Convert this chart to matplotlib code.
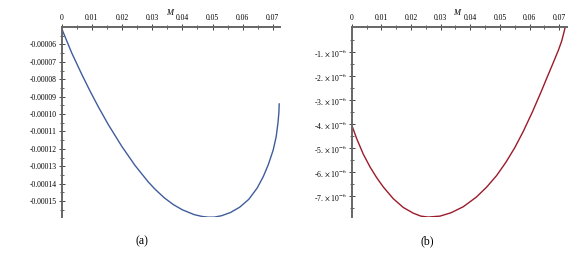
import matplotlib
matplotlib.use("Agg")
import matplotlib.pyplot as plt

plt.rcParams['font.family'] = ['Liberation Serif', 'DejaVu Serif']
plt.rcParams['mathtext.fontset'] = 'stix'

# Panel (a) data (values in units of 1e-5)
m_a = [0.000, 0.0033, 0.0066, 0.0094, 0.0121, 0.0154, 0.0199, 0.0243, 0.0287,
       0.0309, 0.034, 0.037, 0.040, 0.044, 0.0465, 0.0485, 0.0505, 0.053,
       0.056, 0.059, 0.062, 0.0648, 0.0668, 0.0685, 0.0701, 0.0711, 0.0717,
       0.0720, 0.0721]
v_a = [-5.09, -6.48, -7.70, -8.68, -9.57, -10.59, -11.85, -12.95, -13.90,
       -14.31, -14.81, -15.20, -15.50, -15.78, -15.88, -15.92, -15.92, -15.84,
       -15.65, -15.35, -14.9, -14.25, -13.6, -12.9, -12.07, -11.3, -10.5,
       -9.9, -9.42]
v_a = [v * 1e-5 for v in v_a]

# Panel (b) data (values in units of 1e-6)
m_b = [0.000, 0.0017, 0.0039, 0.0062, 0.0084, 0.0107, 0.014, 0.0174, 0.0208,
       0.0233, 0.0258, 0.0298, 0.0335, 0.0376, 0.042, 0.0455, 0.0489, 0.052,
       0.055, 0.0579, 0.061, 0.064, 0.0657, 0.0677, 0.0697, 0.0708, 0.0715,
       0.0719]
v_b = [-4.04, -4.62, -5.26, -5.80, -6.24, -6.64, -7.12, -7.49, -7.73,
       -7.85, -7.89, -7.85, -7.71, -7.46, -7.06, -6.64, -6.15, -5.60,
       -4.99, -4.30, -3.48, -2.62, -2.11, -1.52, -0.92, -0.54, -0.21,
       0.0]
v_b = [v * 1e-6 for v in v_b]

x_ticks = [0, 0.01, 0.02, 0.03, 0.04, 0.05, 0.06, 0.07]
x_labels = ['0', '0.01', '0.02', '0.03', '0.04', '0.05', '0.06', '0.07']
ya_ticks = [-6e-5, -7e-5, -8e-5, -9e-5, -10e-5, -11e-5, -12e-5, -13e-5, -14e-5, -15e-5]
ya_labels = ['-0.00006', '-0.00007', '-0.00008', '-0.00009', '-0.00010',
             '-0.00011', '-0.00012', '-0.00013', '-0.00014', '-0.00015']
yb_ticks = [-1e-6, -2e-6, -3e-6, -4e-6, -5e-6, -6e-6, -7e-6]
yb_labels = [r'-%d. $\times$ 10$^{-6}$' % k for k in range(1, 8)]

fig = plt.figure(figsize=(5.78, 2.56), dpi=100)
H = 256.0
W = 578.0
bottom = 1 - 217.3 / H
top = 1 - 27 / H
ax1 = fig.add_axes([61.7 / W, bottom, (279.5 - 61.7) / W, top - bottom])
ax2 = fig.add_axes([351.7 / W, bottom, (566.7 - 351.7) / W, top - bottom])

ax1.plot(m_a, v_a, color='#3f5d9c', lw=1.0, solid_joinstyle='round')
ax2.plot(m_b, v_b, color='#9b1b2b', lw=1.0, solid_joinstyle='round')

ax1.set_xlim(0, 0.0722)
ax1.set_ylim(-0.0001593, -0.00005)
ax2.set_xlim(0, 0.0725)
ax2.set_ylim(-7.9e-6, 0.05e-6)

def style(ax, yt, yl, xminor, yminor):
    for s in ['right', 'bottom']:
        ax.spines[s].set_visible(False)
    for s in ['left', 'top']:
        ax.spines[s].set_color('#666666')
        ax.spines[s].set_linewidth(1.4)
    ax.xaxis.set_ticks_position('top')
    ax.set_xticks(x_ticks)
    ax.set_xticklabels(x_labels)
    ax.set_xticks(xminor, minor=True)
    ax.set_yticks(yt)
    ax.set_yticklabels(yl)
    ax.set_yticks(yminor, minor=True)
    ax.tick_params(axis='both', which='major', direction='inout', length=4,
                   width=0.7, color='#444444', labelsize=5.5, pad=1.5)
    ax.tick_params(axis='both', which='minor', direction='inout', length=2.5,
                   width=0.6, color='#444444')
    ax.patch.set_alpha(0)

xminor = [0.005 + 0.01 * k for k in range(7)]
ya_minor = [-5.5e-5 - 1e-5 * k for k in range(11)]
yb_minor = [-0.5e-6 - 1e-6 * k for k in range(8)]
style(ax1, ya_ticks, ya_labels, xminor, ya_minor)
style(ax2, yb_ticks, yb_labels, xminor, yb_minor)

fig.text(170 / W, 1 - 12.7 / H, 'M', fontstyle='italic', fontsize=6,
         ha='center', va='center')
fig.text(456.7 / W, 1 - 12.7 / H, 'M', fontstyle='italic', fontsize=6,
         ha='center', va='center')
fig.text(141.7 / W, 1 - 241.5 / H, '(a)', fontsize=8.5, ha='center', va='center')
fig.text(427.3 / W, 1 - 241.5 / H, '(b)', fontsize=8.5, ha='center', va='center')

fig.savefig('out.png', dpi=100)
